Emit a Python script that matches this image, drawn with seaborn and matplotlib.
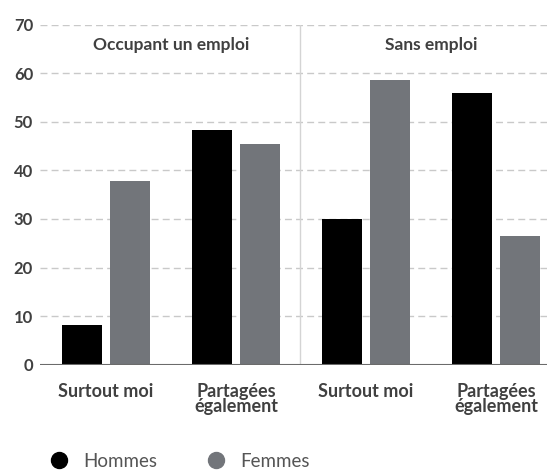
import matplotlib
matplotlib.use("Agg")
import matplotlib.pyplot as plt
from matplotlib.lines import Line2D
import seaborn as sns
import pandas as pd

# Data
panels = ["Occupant un emploi", "Sans emploi"]
categories = ["Surtout moi", "Partagées\négalement", "Surtout moi", "Partagées\négalement"]
category_panel = [0, 0, 1, 1]
hommes = [8.2, 48.3, 30.0, 56.0]
femmes = [37.8, 45.5, 58.6, 26.5]
series = ["Hommes", "Femmes"]
colors = {"Hommes": "#000000", "Femmes": "#72757a"}
y_ticks = [0, 10, 20, 30, 40, 50, 60, 70]

keys = [f"{panels[p]} | {c}" for p, c in zip(category_panel, categories)]
df = pd.DataFrame({
    "key": keys * 2,
    "serie": ["Hommes"] * len(keys) + ["Femmes"] * len(keys),
    "valeur": hommes + femmes,
})

sns.set_theme(style="white")
plt.rcParams["font.family"] = ["Lato", "DejaVu Sans"]
text_col = "#404040"

fig = plt.figure(figsize=(5.47, 4.70), dpi=100)
ax = fig.add_axes([40 / 547, 105.3 / 470, 507 / 547, 340.2 / 470])

sns.barplot(data=df, x="key", y="valeur", hue="serie", order=keys,
            hue_order=series, palette=colors, width=0.743, gap=0.172,
            linewidth=0, saturation=1, ax=ax, legend=False, zorder=3)

ax.set_ylim(0, 70)
ax.set_xlim(-0.508, 3.392)
ax.set_yticks(y_ticks)
ax.set_yticklabels([str(t) for t in y_ticks], fontsize=12, fontweight="bold",
                   color=text_col)
ax.tick_params(axis="y", length=0, pad=5)
ax.set_xticks(range(len(keys)))
ax.set_xticklabels(categories, fontsize=13, fontweight="bold", color=text_col,
                   linespacing=0.9, va="top")
ax.tick_params(axis="x", length=0, pad=13)
ax.set_xlabel("")
ax.set_ylabel("")

for s in ax.spines.values():
    s.set_visible(False)

for t in y_ticks[1:]:
    ax.axhline(t, color="#c9c9c9", lw=1, ls=(0, (5, 3)), zorder=1)
ax.axhline(0, color="#6b6b6b", lw=1.5, zorder=4)
ax.plot([1.492, 1.492], [0, 70], color="#d4d4d4", lw=1, zorder=2)

for i, name in enumerate(panels):
    xs = [k for k, p in enumerate(category_panel) if p == i]
    ax.text(sum(xs) / len(xs), 65.8, name, ha="center", va="center",
            fontsize=12.5, fontweight="bold", color=text_col)

handles = [Line2D([], [], marker="o", ls="", markersize=11.5,
                  markerfacecolor=colors[s], markeredgecolor=colors[s])
           for s in series]
fig.legend(handles, series, loc="center left", bbox_to_anchor=(0.06, 0.018),
           ncol=2, frameon=False, fontsize=13.5, labelcolor="#555555",
           handletextpad=0.8, columnspacing=2.6, handlelength=1.0)

fig.savefig("out.png", dpi=100)
